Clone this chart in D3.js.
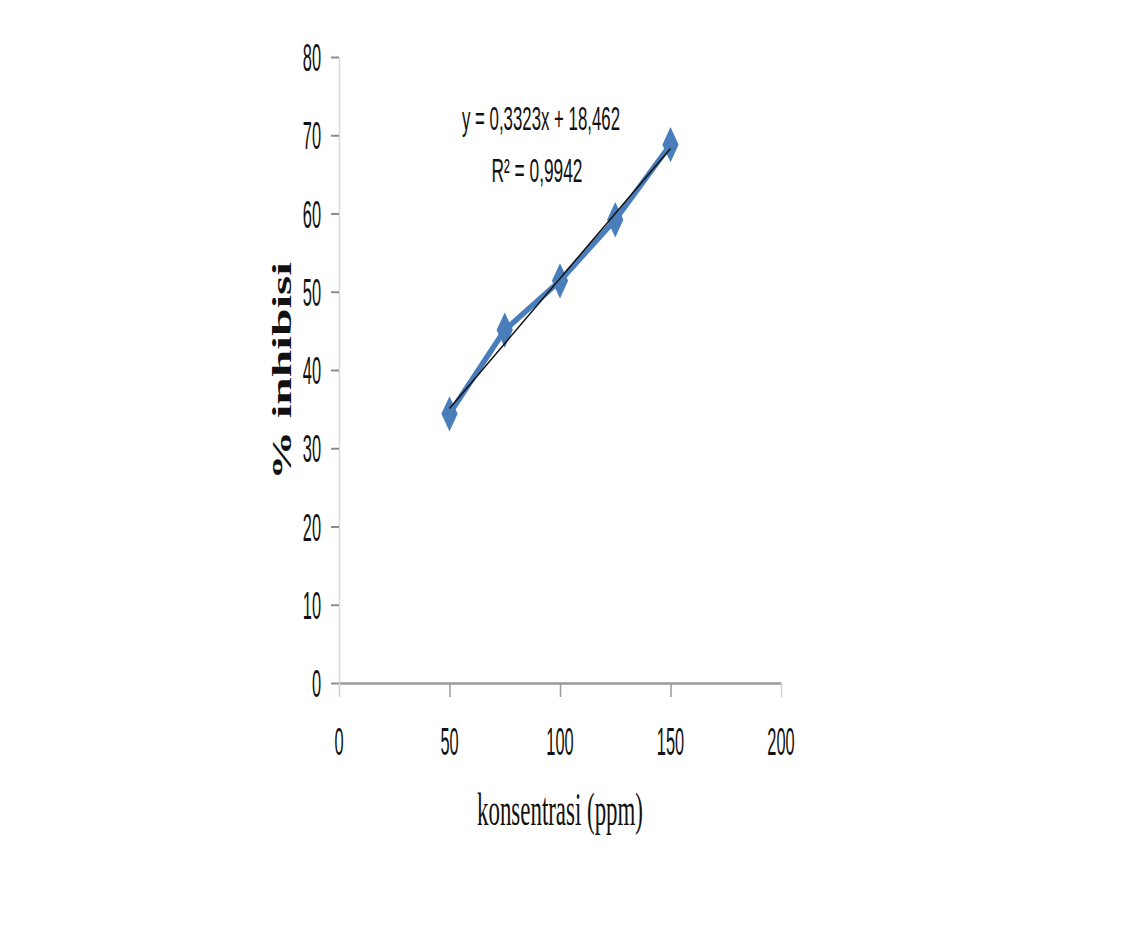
<!DOCTYPE html>
<html>
<head>
<meta charset="utf-8">
<script src="https://cdn.jsdelivr.net/npm/d3@7"></script>
<style>
	body { margin: 0; background: #fff; }
	svg text { font-family: "Liberation Sans", Arial, sans-serif; fill: #111; }
</style>
</head>
<body>
<svg id="chart" width="1142" height="927"></svg>
<script>
// data
const CONC = [50, 75, 100, 125, 150];
const INHIB = [34.4, 45.1, 51.4, 59.2, 68.8];
const X_TICKS = [0, 50, 100, 150, 200];
const Y_TICKS = [0, 10, 20, 30, 40, 50, 60, 70, 80];
const SLOPE = 0.3323;
const INTERCEPT = 18.462;
const EQ_TEXT = 'y = 0,3323x + 18,462';
const R2_TEXT = 'R² = 0,9942';
const X_TITLE = 'konsentrasi (ppm)';
const Y_TITLE = '% inhibisi';

const SQUEEZE = 0.42; // the picture is squashed sideways

function whenDocumentLoaded(action) {
	if (document.readyState === "loading") {
		document.addEventListener("DOMContentLoaded", action);
	} else {
		action();
	}
}

whenDocumentLoaded(() => {
	const svg = d3.select('#chart');

	const x = d3.scaleLinear().domain([0, 200]).range([339, 781]);
	const y = d3.scaleLinear().domain([0, 80]).range([683, 57]);

	/* y axis: faint line, short grey ticks */
	const yAxis = svg.append('g')
		.attr('transform', `translate(${x(0)},0)`)
		.call(d3.axisLeft(y).tickValues(Y_TICKS).tickSize(8).tickSizeOuter(0).tickFormat(''));
	yAxis.select('.domain').attr('stroke', '#d9d9d9').attr('stroke-width', 1.5);
	yAxis.selectAll('.tick line').attr('stroke', '#8c8c8c').attr('stroke-width', 2);

	/* x axis: grey line with ticks hanging down */
	const xAxis = svg.append('g')
		.attr('transform', `translate(0,${y(0)})`)
		.call(d3.axisBottom(x).tickValues(X_TICKS).tickSize(14).tickSizeOuter(0).tickFormat(''));
	xAxis.select('.domain').attr('stroke', '#9a9a9a').attr('stroke-width', 2.5);
	xAxis.selectAll('.tick line').attr('stroke', '#9a9a9a').attr('stroke-width', 1.5);
	xAxis.selectAll('.tick line').filter(d => d === 0 || d === 200).attr('stroke', '#d0d0d0');

	/* tick labels */
	svg.selectAll('text.ylab')
		.data(Y_TICKS)
		.enter().append('text')
		.attr('class', 'ylab')
		.attr('transform', d => `translate(321,${y(d)}) scale(${SQUEEZE},1)`)
		.attr('dy', '0.36em')
		.attr('text-anchor', 'end')
		.style('font-size', '39px')
		.text(d => d);

	svg.selectAll('text.xlab')
		.data(X_TICKS)
		.enter().append('text')
		.attr('class', 'xlab')
		.attr('transform', d => `translate(${x(d)},755) scale(${SQUEEZE},1)`)
		.attr('text-anchor', 'middle')
		.style('font-size', '39px')
		.text(d => d);

	/* data series */
	const data = CONC.map((c, i) => ({ x: c, y: INHIB[i] }));
	svg.append('path')
		.datum(data)
		.attr('fill', 'none')
		.attr('stroke', '#4a7ebb')
		.attr('stroke-width', 5.5)
		.attr('stroke-linejoin', 'round')
		.attr('d', d3.line().x(d => x(d.x)).y(d => y(d.y)));

	const diamond = d3.symbol().type(d3.symbolDiamond).size(230);
	svg.selectAll('path.marker')
		.data(data)
		.enter().append('path')
		.attr('class', 'marker')
		.attr('d', diamond)
		.attr('transform', d => `translate(${x(d.x)},${y(d.y)}) scale(1,1.25)`)
		.attr('fill', '#4a7ebb');

	/* linear trendline */
	const xr = d3.extent(CONC);
	svg.append('line')
		.attr('x1', x(xr[0])).attr('y1', y(SLOPE * xr[0] + INTERCEPT))
		.attr('x2', x(xr[1])).attr('y2', y(SLOPE * xr[1] + INTERCEPT))
		.attr('stroke', '#111')
		.attr('stroke-width', 1.5);

	/* equation */
	svg.append('text')
		.attr('x', 541).attr('y', 130)
		.attr('text-anchor', 'middle')
		.attr('textLength', 158)
		.attr('lengthAdjust', 'spacingAndGlyphs')
		.style('font-size', '34px')
		.text(EQ_TEXT);

	svg.append('text')
		.attr('x', 537).attr('y', 182)
		.attr('text-anchor', 'middle')
		.attr('textLength', 91)
		.attr('lengthAdjust', 'spacingAndGlyphs')
		.style('font-size', '34px')
		.text(R2_TEXT);

	/* axis titles */
	svg.append('text')
		.attr('x', 560).attr('y', 825)
		.attr('text-anchor', 'middle')
		.attr('textLength', 166)
		.attr('lengthAdjust', 'spacingAndGlyphs')
		.style('font-family', '"Liberation Serif", "Times New Roman", serif')
		.style('font-size', '47px')
		.text(X_TITLE);

	svg.append('text')
		.attr('transform', 'translate(291,371) rotate(-90)')
		.attr('text-anchor', 'middle')
		.attr('textLength', 218)
		.attr('lengthAdjust', 'spacingAndGlyphs')
		.style('font-family', '"Liberation Serif", "Times New Roman", serif')
		.style('font-weight', 'bold')
		.style('font-size', '27px')
		.text(Y_TITLE);
});
</script>
</body>
</html>
